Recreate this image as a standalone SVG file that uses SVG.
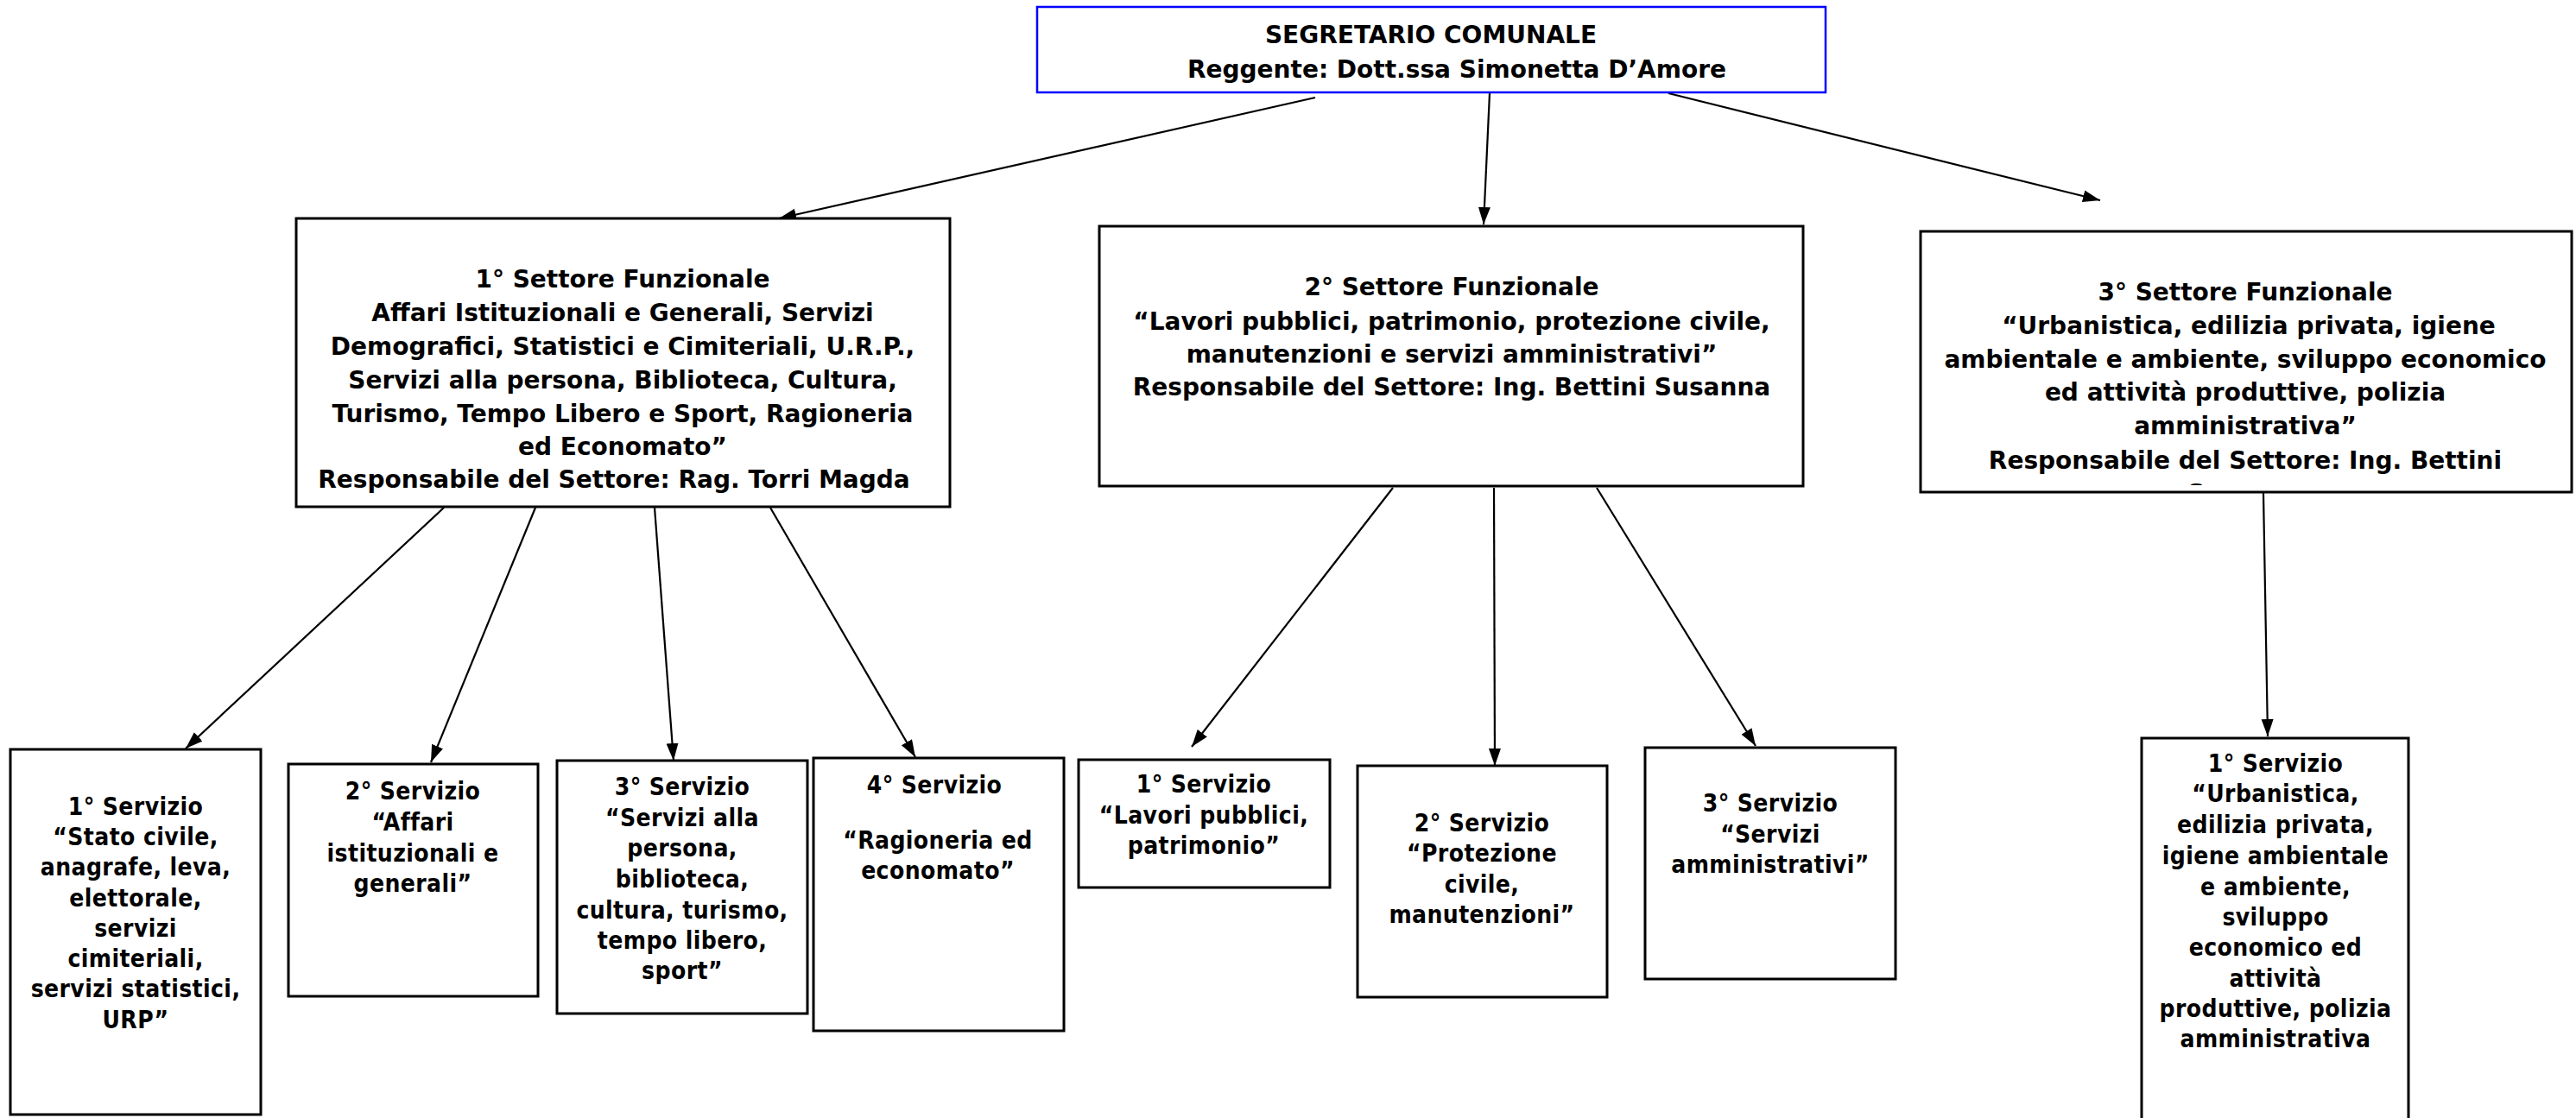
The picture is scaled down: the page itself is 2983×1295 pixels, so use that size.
<svg xmlns="http://www.w3.org/2000/svg" width="2983" height="1295" viewBox="0 0 2983 1295">
<style>
text{font-family:"DejaVu Sans Condensed","DejaVu Sans",sans-serif;font-stretch:condensed;font-weight:bold;font-size:28px;fill:#000;text-anchor:middle;letter-spacing:0.4px}
.w text{font-family:"DejaVu Sans",sans-serif;font-stretch:normal;letter-spacing:0}
.caps{letter-spacing:1px}
.box{fill:#fff;stroke:#000;stroke-width:3}
.top{fill:#fff;stroke:#0000ff;stroke-width:2.5}
.edge{stroke:#000;stroke-width:2.2;fill:none;marker-end:url(#arr)}
</style>
<defs>
<marker id="arr" markerUnits="userSpaceOnUse" markerWidth="22" markerHeight="16" refX="20" refY="7" orient="auto">
<path d="M0,0 L20,7 L0,14 z" fill="#000"/>
</marker>
<clipPath id="c3"><rect x="2226" y="270" width="750" height="292"/></clipPath>
</defs>
<rect width="2983" height="1295" fill="#fff"/>
<g id="connectors">
<line class="edge" x1="1523" y1="113" x2="902" y2="253"/>
<line class="edge" x1="1725" y1="108" x2="1718" y2="260"/>
<line class="edge" x1="1932" y1="108" x2="2432" y2="232"/>
<line class="edge" x1="514" y1="588" x2="215" y2="867"/>
<line class="edge" x1="620" y1="588" x2="499" y2="883"/>
<line class="edge" x1="758" y1="588" x2="780" y2="881"/>
<line class="edge" x1="892" y1="588" x2="1060" y2="877"/>
<line class="edge" x1="1613" y1="565" x2="1380" y2="865"/>
<line class="edge" x1="1730" y1="565" x2="1731" y2="887"/>
<line class="edge" x1="1849" y1="565" x2="2033" y2="864"/>
<line class="edge" x1="2621" y1="571" x2="2626" y2="853"/>
</g>
<g id="segretario" class="w">
<rect class="top" x="1201" y="8" width="913" height="99"/>
<text class="caps" x="1657" y="50">SEGRETARIO COMUNALE</text>
<text x="1687" y="90">Reggente: Dott.ssa Simonetta D’Amore</text>
</g>
<g id="settore1" class="w">
<rect class="box" x="343" y="253" width="757" height="334"/>
<text x="721" y="333">1° Settore Funzionale</text>
<text x="721" y="372">Affari Istituzionali e Generali, Servizi</text>
<text x="721" y="411">Demografici, Statistici e Cimiteriali, U.R.P.,</text>
<text x="721" y="450">Servizi alla persona, Biblioteca, Cultura,</text>
<text x="721" y="489">Turismo, Tempo Libero e Sport, Ragioneria</text>
<text x="721" y="527">ed Economato”</text>
<text x="711" y="565">Responsabile del Settore: Rag. Torri Magda</text>
</g>
<g id="settore2" class="w">
<rect class="box" x="1273" y="262" width="815" height="301"/>
<text x="1681" y="342">2° Settore Funzionale</text>
<text x="1681" y="382">“Lavori pubblici, patrimonio, protezione civile,</text>
<text x="1681" y="420">manutenzioni e servizi amministrativi”</text>
<text x="1681" y="458">Responsabile del Settore: Ing. Bettini Susanna</text>
</g>
<g id="settore3" class="w">
<rect class="box" x="2224" y="268" width="754" height="302"/>
<text x="2600" y="348">3° Settore Funzionale</text>
<text x="2604" y="387">“Urbanistica, edilizia privata, igiene</text>
<text x="2600" y="426">ambientale e ambiente, sviluppo economico</text>
<text x="2600" y="464">ed attività produttive, polizia</text>
<text x="2600" y="503">amministrativa”</text>
<text x="2600" y="543">Responsabile del Settore: Ing. Bettini</text>
<text x="2600" y="581" clip-path="url(#c3)">Susanna</text>
</g>
<g id="s1-servizio1">
<rect class="box" x="12" y="868" width="290" height="423"/>
<text x="157" y="944">1° Servizio</text>
<text x="157" y="979">“Stato civile,</text>
<text x="157" y="1014">anagrafe, leva,</text>
<text x="157" y="1050">elettorale,</text>
<text x="157" y="1085">servizi</text>
<text x="157" y="1120">cimiteriali,</text>
<text x="157" y="1155">servizi statistici,</text>
<text x="157" y="1191">URP”</text>
</g>
<g id="s1-servizio2">
<rect class="box" x="334" y="885" width="289" height="269"/>
<text x="478" y="926">2° Servizio</text>
<text x="478" y="962">“Affari</text>
<text x="478" y="998">istituzionali e</text>
<text x="478" y="1033">generali”</text>
</g>
<g id="s1-servizio3">
<rect class="box" x="645" y="881" width="290" height="293"/>
<text x="790" y="921">3° Servizio</text>
<text x="790" y="957">“Servizi alla</text>
<text x="790" y="992">persona,</text>
<text x="790" y="1028">biblioteca,</text>
<text x="790" y="1064">cultura, turismo,</text>
<text x="790" y="1099">tempo libero,</text>
<text x="790" y="1134">sport”</text>
</g>
<g id="s1-servizio4">
<rect class="box" x="942" y="878" width="290" height="316"/>
<text x="1082" y="919">4° Servizio</text>
<text x="1086" y="983">“Ragioneria ed</text>
<text x="1086" y="1018">economato”</text>
</g>
<g id="s2-servizio1">
<rect class="box" x="1249" y="880" width="291" height="148"/>
<text x="1394" y="918">1° Servizio</text>
<text x="1394" y="954">“Lavori pubblici,</text>
<text x="1394" y="989">patrimonio”</text>
</g>
<g id="s2-servizio2">
<rect class="box" x="1572" y="887" width="289" height="268"/>
<text x="1716" y="963">2° Servizio</text>
<text x="1716" y="998">“Protezione</text>
<text x="1716" y="1034">civile,</text>
<text x="1716" y="1069">manutenzioni”</text>
</g>
<g id="s2-servizio3">
<rect class="box" x="1905" y="866" width="290" height="268"/>
<text x="2050" y="940">3° Servizio</text>
<text x="2050" y="976">“Servizi</text>
<text x="2050" y="1011">amministrativi”</text>
</g>
<g id="s3-servizio1">
<rect class="box" x="2480" y="855" width="309" height="460"/>
<text x="2635" y="894">1° Servizio</text>
<text x="2635" y="929">“Urbanistica,</text>
<text x="2635" y="965">edilizia privata,</text>
<text x="2635" y="1001">igiene ambientale</text>
<text x="2635" y="1037">e ambiente,</text>
<text x="2635" y="1072">sviluppo</text>
<text x="2635" y="1107">economico ed</text>
<text x="2635" y="1143">attività</text>
<text x="2635" y="1178">produttive, polizia</text>
<text x="2635" y="1213">amministrativa</text>
</g>
</svg>
